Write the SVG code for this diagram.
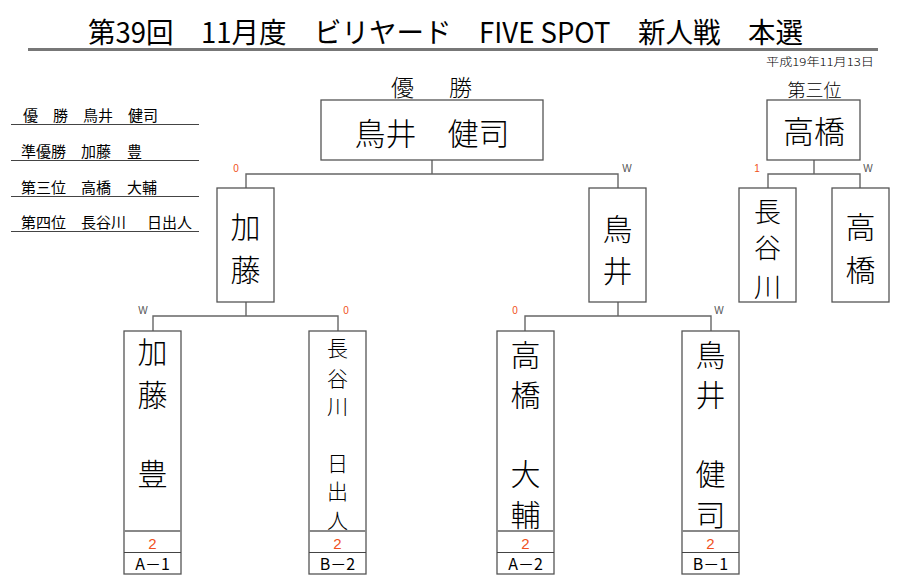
<svg xmlns="http://www.w3.org/2000/svg" width="900" height="587" viewBox="0 0 900 587">
<style>
text{font-family:"Noto Sans CJK JP","Noto Sans",sans-serif;fill:#000;font-weight:300}
.box{fill:#fff;stroke:#555;stroke-width:1.3}
.div1{stroke:#888;stroke-width:2.2}
.div2{stroke:#444;stroke-width:1.2}
.con{fill:none;stroke:#666;stroke-width:1.4}
.rule{stroke:#444;stroke-width:1}
.sc{font-family:"Liberation Sans",Arial,sans-serif;font-size:10px;text-anchor:middle}
.o{fill:#f05020}
.w{fill:#555}
.big{font-size:30px;text-anchor:middle}
.mid{font-size:21px;text-anchor:middle}
.lst{font-size:15px;font-weight:400}
.ttl{font-size:28px;font-weight:400}
.num{font-size:15px;text-anchor:middle;fill:#f05020;font-family:"Liberation Sans",Arial,sans-serif}
.tag{font-size:16px;text-anchor:middle;font-weight:400}
</style>
<rect width="900" height="587" fill="#fff"/>
<g id="header">
<text class="ttl" x="88" y="43" textLength="715" lengthAdjust="spacingAndGlyphs">第39回　11月度　ビリヤード　FIVE SPOT　新人戦　本選</text>
<line x1="28" y1="49.5" x2="878" y2="49.5" stroke="#777" stroke-width="3"/>
<text x="766" y="66" font-size="11" textLength="108" lengthAdjust="spacingAndGlyphs">平成19年11月13日</text>
</g>
<g id="results">
<text class="lst" y="121"><tspan x="23">優</tspan><tspan x="53">勝</tspan><tspan x="83">鳥井</tspan><tspan x="128">健司</tspan></text>
<line class="rule" x1="11" y1="124.5" x2="199" y2="124.5"/>
<text class="lst" y="157"><tspan x="21">準優勝</tspan><tspan x="81">加藤</tspan><tspan x="127">豊</tspan></text>
<line class="rule" x1="11" y1="160.5" x2="199" y2="160.5"/>
<text class="lst" y="193"><tspan x="21">第三位</tspan><tspan x="81">高橋</tspan><tspan x="127">大輔</tspan></text>
<line class="rule" x1="11" y1="196.5" x2="199" y2="196.5"/>
<text class="lst" y="228"><tspan x="21">第四位</tspan><tspan x="81">長谷川</tspan><tspan x="147">日出人</tspan></text>
<line class="rule" x1="11" y1="231.5" x2="199" y2="231.5"/>
</g>
<g id="connectors">
<path class="con" d="M432 160V174M246 188V174H618V188"/>
<path class="con" d="M246 302V316M153 331V316H338V331"/>
<path class="con" d="M618 302V316M525 331V316H711V331"/>
<path class="con" d="M814 160V174M768 188V174H860V188"/>
</g>
<g id="scores">
<text class="sc o" x="236" y="172">0</text>
<text class="sc w" x="627" y="172">W</text>
<text class="sc w" x="143" y="314">W</text>
<text class="sc o" x="346" y="314">0</text>
<text class="sc o" x="515" y="314">0</text>
<text class="sc w" x="719" y="314">W</text>
<text class="sc o" x="757" y="172">1</text>
<text class="sc w" x="868" y="172">W</text>
</g>
<g id="champion">
<text x="402.5" y="96" font-size="23" text-anchor="middle">優</text>
<text x="460.5" y="96" font-size="23" text-anchor="middle">勝</text>
<rect class="box" x="321" y="100" width="222" height="60"/>
<text x="432" y="145" font-size="31" text-anchor="middle">鳥井　健司</text>
</g>
<g id="semi-left">
<rect class="box" x="217" y="188" width="57" height="114"/>
<text class="big" x="245.5" y="238">加</text>
<text class="big" x="245.5" y="281">藤</text>
</g>
<g id="semi-right">
<rect class="box" x="589" y="188" width="57" height="114"/>
<text class="big" x="617.5" y="240">鳥</text>
<text class="big" x="617.5" y="282">井</text>
</g>
<g id="a1">
<rect class="box" x="124" y="331" width="57" height="243"/>
<line class="div1" x1="124" y1="531" x2="181" y2="531"/>
<line class="div2" x1="124" y1="552.5" x2="181" y2="552.5"/>
<text class="big" x="152.5" y="363">加</text>
<text class="big" x="152.5" y="406">藤</text>
<text class="big" x="152.5" y="485">豊</text>
<text class="num" x="152.5" y="549">2</text>
<text class="tag" x="152.5" y="570">A－1</text>
</g>
<g id="b2">
<rect class="box" x="309" y="331" width="57" height="243"/>
<line class="div1" x1="309" y1="531" x2="366" y2="531"/>
<line class="div2" x1="309" y1="552.5" x2="366" y2="552.5"/>
<text class="mid" x="337.5" y="356">長</text>
<text class="mid" x="337.5" y="386">谷</text>
<text class="mid" x="337.5" y="414">川</text>
<text class="mid" x="337.5" y="471">日</text>
<text class="mid" x="337.5" y="499">出</text>
<text class="mid" x="337.5" y="528">人</text>
<text class="num" x="337.5" y="549">2</text>
<text class="tag" x="337.5" y="570">B－2</text>
</g>
<g id="a2">
<rect class="box" x="497" y="331" width="57" height="243"/>
<line class="div1" x1="497" y1="531" x2="554" y2="531"/>
<line class="div2" x1="497" y1="552.5" x2="554" y2="552.5"/>
<text class="big" x="525.5" y="366">高</text>
<text class="big" x="525.5" y="406">橋</text>
<text class="big" x="525.5" y="485">大</text>
<text class="big" x="525.5" y="526">輔</text>
<text class="num" x="525.5" y="549">2</text>
<text class="tag" x="525.5" y="570">A－2</text>
</g>
<g id="b1">
<rect class="box" x="682" y="331" width="57" height="243"/>
<line class="div1" x1="682" y1="531" x2="739" y2="531"/>
<line class="div2" x1="682" y1="552.5" x2="739" y2="552.5"/>
<text class="big" x="710.5" y="366">鳥</text>
<text class="big" x="710.5" y="406">井</text>
<text class="big" x="710.5" y="485">健</text>
<text class="big" x="710.5" y="526">司</text>
<text class="num" x="710.5" y="549">2</text>
<text class="tag" x="710.5" y="570">B－1</text>
</g>
<g id="third">
<text x="814.5" y="97" font-size="18" text-anchor="middle">第三位</text>
<rect class="box" x="767" y="100" width="93" height="60"/>
<text x="814" y="143" font-size="31" text-anchor="middle">高橋</text>
</g>
<g id="third-left">
<rect class="box" x="739" y="188" width="57" height="114"/>
<text x="767.5" y="222" font-size="27" text-anchor="middle">長</text>
<text x="767.5" y="258" font-size="27" text-anchor="middle">谷</text>
<text x="767.5" y="297" font-size="27" text-anchor="middle">川</text>
</g>
<g id="third-right">
<rect class="box" x="832" y="188" width="57" height="114"/>
<text class="big" x="860.5" y="238">高</text>
<text class="big" x="860.5" y="281">橋</text>
</g>
</svg>
